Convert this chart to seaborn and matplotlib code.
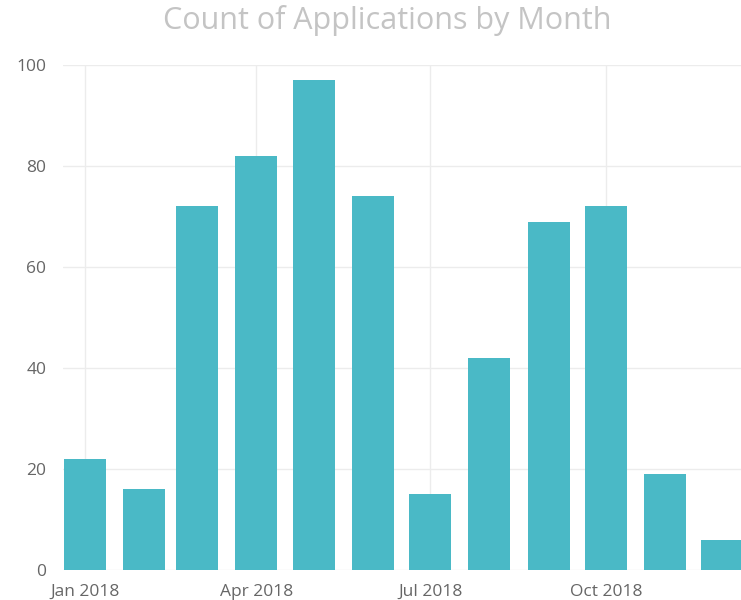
import pandas as pd
import matplotlib
matplotlib.use("Agg")
import matplotlib.pyplot as plt
import matplotlib.dates as mdates
import seaborn as sns

# Datos
months = ["2018-01-01", "2018-02-01", "2018-03-01", "2018-04-01", "2018-05-01", "2018-06-01",
          "2018-07-01", "2018-08-01", "2018-09-01", "2018-10-01", "2018-11-01", "2018-12-01"]
counts = [22, 16, 72, 82, 97, 74, 15, 42, 69, 72, 19, 6]
tick_dates = ["2018-01-01", "2018-04-01", "2018-07-01", "2018-10-01"]
tick_labels = ["Jan 2018", "Apr 2018", "Jul 2018", "Oct 2018"]

df = pd.DataFrame({"month": mdates.date2num(pd.to_datetime(months)), "count": counts})

sns.set_style("white")
plt.rcParams["font.family"] = ["Open Sans", "DejaVu Sans"]

fig = plt.figure(figsize=(7.41, 6), dpi=100)
ax = fig.add_axes([63 / 741, 30 / 600, 678 / 741, 505 / 600])

sns.barplot(data=df, x="month", y="count", native_scale=True, width=22 / 28,
            color="#4ab9c6", saturation=1, linewidth=0, ax=ax)

# Ejes
x0 = mdates.date2num(pd.Timestamp("2018-01-01"))
ax.set_xlim(x0 - 11.3, x0 + 343.8)
ax.set_ylim(0, 100)
ax.set_xticks(mdates.date2num(pd.to_datetime(tick_dates)))
ax.set_xticklabels(tick_labels)
ax.set_yticks([0, 20, 40, 60, 80, 100])
ax.tick_params(axis="both", length=0, colors="#666666", labelsize=12.5)
ax.tick_params(axis="y", pad=12)
ax.tick_params(axis="x", pad=10)
ax.grid(True, color="#ececec", linewidth=1)
ax.set_axisbelow(True)
for s in ax.spines.values():
    s.set_visible(False)
ax.set_xlabel("")
ax.set_ylabel("")

fig.text(387 / 741, 1 - 21 / 600, "Count of Applications by Month", ha="center", va="center",
         fontsize=22, color="#c4c4c4")

fig.savefig("out.png", dpi=100)
